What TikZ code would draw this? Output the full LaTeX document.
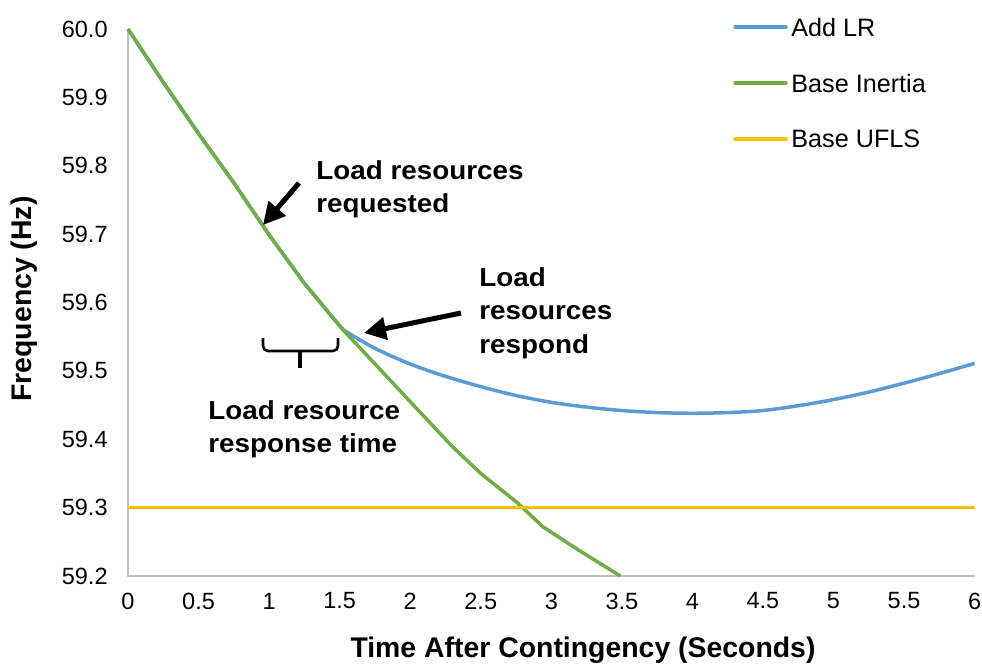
\documentclass[tikz,border=0pt]{standalone}
\usepackage{fontspec}
\setmainfont{Liberation Sans}
\newfontfamily\notefont{Liberation Sans}[FakeStretch=1.07]
\usetikzlibrary{arrows.meta}
\definecolor{lrblue}{HTML}{5B9BD5}
\definecolor{inertiagreen}{HTML}{70AD47}
\definecolor{uflsgold}{HTML}{FFC000}
\definecolor{axisgray}{HTML}{BFBFBF}
\begin{document}
\begin{tikzpicture}[x=0.5pt, y=-0.5pt,
  axisline/.style={draw=axisgray, line width=1pt},
  addlr/.style={draw=lrblue, line width=1.75pt, line join=round},
  inertia/.style={draw=inertiagreen, line width=1.75pt, line join=round},
  ufls/.style={draw=uflsgold, line width=1.75pt},
  ticklbl/.style={font=\fontsize{11.75}{14}\selectfont, inner sep=0pt},
  legtxt/.style={font=\fontsize{12.6}{15}\selectfont, inner sep=0pt, anchor=west},
  note/.style={font=\notefont\fontsize{13}{16.75}\selectfont\bfseries, inner sep=0pt, anchor=north west, align=left},
  axtitle/.style={font=\fontsize{14.2}{16}\selectfont\bfseries, inner sep=0pt},
  callout/.style={-{Triangle[length=11pt,width=11pt]}, line width=2.5pt},
  bracket/.style={line width=1.3pt, rounded corners=2.5pt}]
\useasboundingbox (0,0) rectangle (982,664);
\begin{scope}[shift={(128,576)}, x=70.55pt, y=34.1875pt]
\coordinate (orig) at (0,0);
\coordinate (ytop) at (0,8);
\coordinate (xend) at (6,0);
\draw[axisline] (ytop) -- (orig) -- (xend);
\foreach \t in {0,0.5,1,1.5,2,2.5,3,3.5,4,4.5,5,5.5,6}
  \node[ticklbl, yshift=-12.5pt] at (\t,0) {\t};
\foreach \v [count=\i from 0] in {59.2,59.3,59.4,59.5,59.6,59.7,59.8,59.9,60.0}
  \node[ticklbl, anchor=east, xshift=-10pt] (yt\i) at (0,\i) {\v};
\draw[addlr] plot coordinates {(0,8) (0.25,7.22) (0.5,6.47) (0.75,5.75) (1,4.99) (1.25,4.28) (1.524,3.6)};
\draw[addlr] plot[smooth] coordinates {(1.524,3.6) (1.75,3.33) (2,3.1) (2.25,2.92) (2.5,2.77) (2.75,2.64) (3,2.54) (3.25,2.47) (3.5,2.42) (3.75,2.39) (4,2.38) (4.25,2.39) (4.5,2.42) (4.75,2.49) (5,2.58) (5.25,2.69) (5.5,2.82) (5.75,2.96) (6,3.11)};
\draw[inertia] plot coordinates {(0,8) (0.25,7.22) (0.5,6.47) (0.75,5.75) (1,4.99) (1.25,4.28) (1.524,3.6) (1.81,2.97) (2,2.55) (2.3,1.89) (2.5,1.5) (2.76,1.07) (2.94,0.72) (3.2,0.37) (3.49,0)};
\draw[ufls] (0,1) -- (6,1);
\end{scope}
\foreach \s/\lbl [count=\i from 0] in {addlr/Add LR, inertia/Base Inertia, ufls/Base UFLS}{
  \node[legtxt] (leg\i) at (791,{27+56*\i}) {\lbl};
  \draw[\s, line cap=round] ([xshift=-2.5pt]leg\i.west) -- ++(-51,0);
}
\node[note] (req) at (316,160) {Load resources\\requested};
\node[note] (resp) at (479,267) {Load\\resources\\respond};
\node[note] (rtime) at (208,400) {Load resource\\response time};
\coordinate (reqtail) at (299,183);
\coordinate (reqtip) at (263,225);
\coordinate (resptail) at (461,313);
\coordinate (resptip) at (364,333);
\draw[callout] (reqtail) -- (reqtip);
\draw[callout] (resptail) -- (resptip);
\coordinate (brl) at (263,338);
\coordinate (brr) at (338,338);
\coordinate (brm) at (300,351);
\coordinate (brt) at (300,368);
\draw[bracket] (brl) |- (brm) -| (brr);
\draw[line width=2pt] (brm) -- (brt);
\node[axtitle] (xtitle) at (583,650) {Time After Contingency (Seconds)};
\node[axtitle, rotate=90] (ytitle) at (24,299) {Frequency (Hz)};
\end{tikzpicture}
\end{document}
